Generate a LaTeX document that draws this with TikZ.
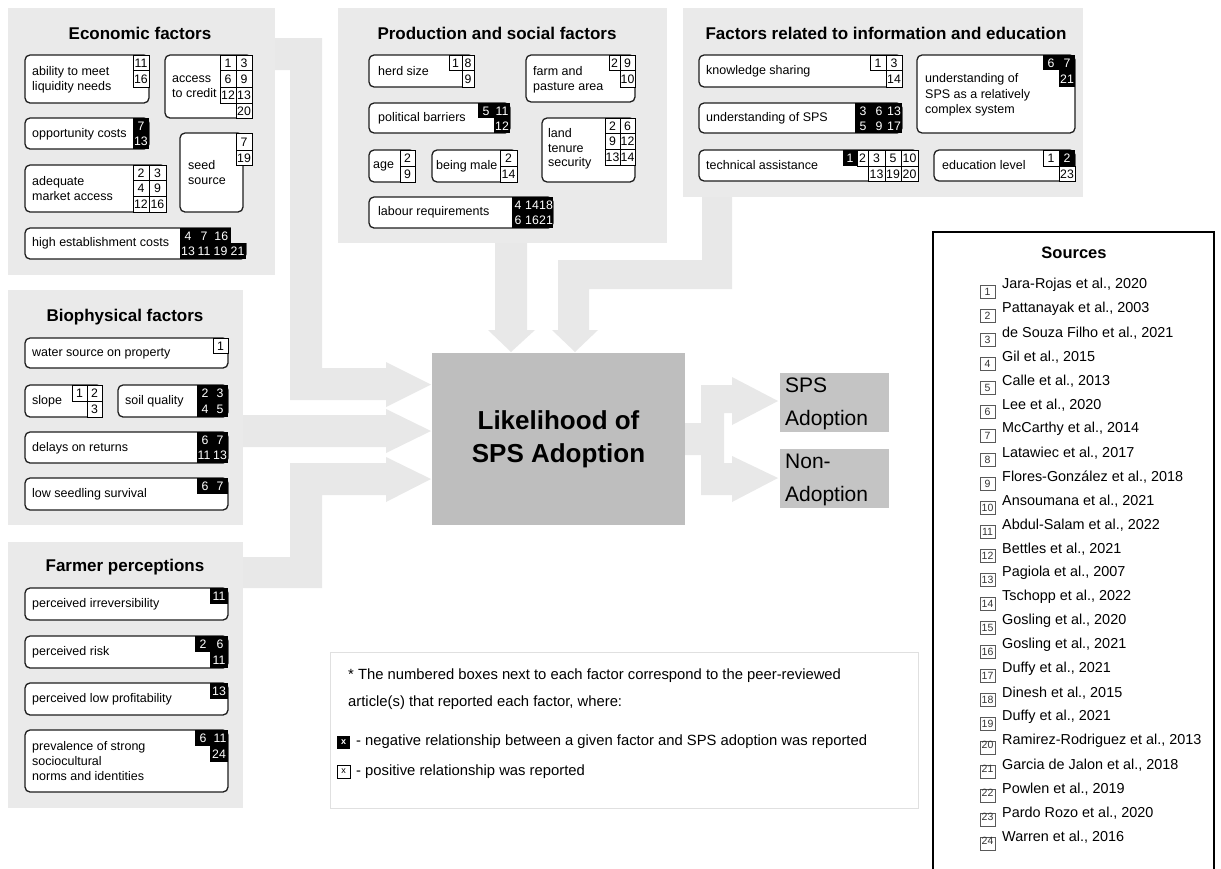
\documentclass[tikz,border=0pt]{standalone}
\usepackage{fontspec}
\setmainfont{Liberation Sans}
\definecolor{panelgray}{HTML}{EAEAEA}
\definecolor{arrowgray}{HTML}{E8E8E8}
\definecolor{centergray}{HTML}{BEBEBE}
\definecolor{outgray}{HTML}{C4C4C4}
\definecolor{boxline}{HTML}{1E1E1E}
\newcounter{nc}
\tikzset{
 fbox/.style={draw=boxline, line width=1.3pt, fill=white, rounded corners=5pt},
 wcst/.style={draw=black, line width=0.8pt, fill=white},
 num/.style={font=\fontsize{12.3}{12}\selectfont, inner sep=0},
 wnum/.style={num, text=white},
 ftxt/.style={anchor=west, align=left, inner sep=0, font=\fontsize{12.5}{15}\selectfont},
 ttl/.style={font=\fontsize{17}{20}\selectfont\bfseries, inner sep=0},
 garrow/.style={fill=arrowgray, draw=none},
 srcnum/.style={font=\fontsize{10.5}{10}\selectfont, inner sep=0, text=black!80},
 srctxt/.style={anchor=west, inner sep=0, font=\fontsize{14.4}{16}\selectfont},
 legtxt/.style={anchor=west, inner sep=0, font=\fontsize{14.8}{16}\selectfont},
}
\newcommand\wcell[5]{\stepcounter{nc}\draw[wcst] (#1,#2) rectangle (#3,#4); \node[num] (w\thenc) at ({(#1+#3)/2},{(#2+#4)/2+0.5}) {#5};}
\newcommand\bcell[5]{\stepcounter{nc}\fill[black] (#1,#2) rectangle (#3,#4); \node[wnum] (b\thenc) at ({(#1+#3)/2},{(#2+#4)/2+0.5}) {#5};}
\newcommand\brect[4]{\fill[black] (#1,#2) rectangle (#3,#4);}
\newcommand\bnum[3]{\stepcounter{nc}\node[wnum] (k\thenc) at (#1,#2) {#3};}
\newcommand\fbx[4]{\draw[fbox] (#1,#2) rectangle (#3,#4);}
\newcommand\ftx[3]{\stepcounter{nc}\node[ftxt] (t\thenc) at (#1,#2) {#3};}
\begin{document}
\begin{tikzpicture}[x=1pt,y=-1pt]
\useasboundingbox (0,0) rectangle (1221,868);
\fill[white] (0,0) rectangle (1221,868);

% ---------- big gray connectors ----------
\fill[garrow] (270,38) -- (322,38) -- (322,368) -- (386,368) -- (386,362) -- (431,384.5) -- (386,407) -- (386,400) -- (290,400) -- (290,70) -- (270,70) -- cycle;
\fill[garrow] (240,415) -- (386,415) -- (386,409) -- (431,431) -- (386,453) -- (386,447) -- (240,447) -- cycle;
\fill[garrow] (240,557) -- (290,557) -- (290,463) -- (386,463) -- (386,457) -- (431,479) -- (386,502) -- (386,495) -- (322,495) -- (322,588) -- (240,588) -- cycle;
\fill[garrow] (495,240) -- (527,240) -- (527,330) -- (535,330) -- (511,352) -- (488,330) -- (495,330) -- cycle;
\fill[garrow] (702,194) -- (732,194) -- (732,289) -- (589,289) -- (589,330) -- (598,330) -- (575,352) -- (552,330) -- (558,330) -- (558,260) -- (702,260) -- cycle;
\fill[garrow] (683,423) -- (701,423) -- (701,385) -- (732,385) -- (732,377) -- (778,401) -- (732,425) -- (732,413) -- (724,413) -- (724,463) -- (732,463) -- (732,456) -- (778,478) -- (732,502) -- (732,495) -- (701,495) -- (701,455) -- (683,455) -- cycle;

% ---------- panels ----------
\fill[panelgray] (8,8) rectangle (275,275);
\fill[panelgray] (338,8) rectangle (667,243);
\fill[panelgray] (683,8) rectangle (1083,197);
\fill[panelgray] (8,290) rectangle (243,525);
\fill[panelgray] (8,542) rectangle (243,808);

% ---------- Economic factors ----------
\node[ttl] (econ) at (140,33) {Economic factors};
\fbx{25}{55}{149}{103}
\ftx{32}{79.5}{ability to meet\\liquidity needs}
\wcell{133}{55}{149}{70}{11}\wcell{133}{70}{149}{87}{16}

\fbx{165}{55}{252}{118}
\ftx{172}{86.5}{access\\to credit}
\wcell{220}{55}{236}{70}{1}\wcell{236}{55}{252}{70}{3}
\wcell{220}{70}{236}{87}{6}\wcell{236}{70}{252}{87}{9}
\wcell{220}{87}{236}{103}{12}\wcell{236}{87}{252}{103}{13}
\wcell{236}{103}{252}{118}{20}

\fbx{25}{118}{149}{149}
\ftx{32}{134}{opportunity costs}
\bcell{133}{118}{149}{133.5}{7}\bcell{133}{133.5}{149}{149}{13}

\fbx{180}{133}{243}{212}
\ftx{188}{173}{seed\\source}
\wcell{236}{133}{252}{150}{7}\wcell{236}{150}{252}{165}{19}

\fbx{25}{165}{166}{212}
\ftx{32}{188.5}{adequate\\market access}
\wcell{133}{165}{149}{180}{2}\wcell{149}{165}{166}{180}{3}
\wcell{133}{180}{149}{196}{4}\wcell{149}{180}{166}{196}{9}
\wcell{133}{196}{149}{212}{12}\wcell{149}{196}{166}{212}{16}

\fbx{25}{228}{246}{259}
\fill[panelgray] (230.5,226) rectangle (248,242.6);
\ftx{32}{243.5}{high establishment costs}
\bcell{180}{228}{196}{243}{4}\bcell{196}{228}{212}{243}{7}\bcell{212}{228}{230.5}{243}{16}
\bcell{180}{243}{196}{259}{13}\bcell{196}{243}{212}{259}{11}\bcell{212}{243}{229}{259}{19}\bcell{229}{243}{246}{259}{21}

% ---------- Production and social factors ----------
\node[ttl] (prod) at (497,33) {Production and social factors};
\fbx{369}{55}{474}{87}
\ftx{378}{71.5}{herd size}
\wcell{449}{55}{462}{70}{1}\wcell{462}{55}{474}{70}{8}\wcell{462}{70}{474}{87}{9}

\fbx{526}{55}{635}{102}
\ftx{533}{79.5}{farm and\\pasture area}
\wcell{609}{55}{620}{70}{2}\wcell{620}{55}{635}{70}{9}\wcell{620}{70}{635}{87}{10}

\fbx{369}{103}{510}{133}
\ftx{378}{118}{political barriers}
\bcell{478}{103}{494}{118}{5}\bcell{494}{103}{510}{118}{11}\bcell{494}{118}{510}{133}{12}

\fbx{542}{118}{635}{182}
\node[ftxt, font=\fontsize{12.5}{14.6}\selectfont] (land) at (548,149) {land\\tenure\\security};
\wcell{605}{118}{620}{133}{2}\wcell{620}{118}{635}{133}{6}
\wcell{605}{133}{620}{149}{9}\wcell{620}{133}{635}{149}{12}
\wcell{605}{149}{620}{165}{13}\wcell{620}{149}{635}{165}{14}

\fbx{369}{150}{415}{182}
\ftx{373}{166.5}{age}
\wcell{400}{150}{415}{166}{2}\wcell{400}{166}{415}{182}{9}

\fbx{432}{150}{517}{182}
\ftx{436}{166.5}{being male}
\wcell{500}{150}{517}{166}{2}\wcell{500}{166}{517}{182}{14}

\fbx{369}{197}{553}{228}
\ftx{378}{212.5}{labour requirements}
\brect{512}{197}{553}{228}
\bnum{518}{205.5}{4}\bnum{532}{205.5}{14}\bnum{546}{205.5}{18}
\bnum{518}{220.5}{6}\bnum{532}{220.5}{16}\bnum{546}{220.5}{21}

% ---------- Information and education ----------
\node[ttl] (info) at (886,33) {Factors related to information and education};
\fbx{699}{55}{902}{87}
\ftx{706}{71.5}{knowledge sharing}
\wcell{870}{55}{886}{70}{1}\wcell{886}{55}{902}{70}{3}\wcell{886}{70}{902}{87}{14}

\fbx{917}{55}{1075}{133}
\node[ftxt, font=\fontsize{12.5}{15.5}\selectfont] (cplx) at (925,95) {understanding of\\SPS as a relatively\\complex system};
\bcell{1043}{55}{1059}{70}{6}\bcell{1059}{55}{1075}{70}{7}\bcell{1059}{70}{1075}{87}{21}

\fbx{699}{103}{902}{133}
\ftx{706}{118}{understanding of SPS}
\brect{855}{103}{902}{133}
\bnum{863}{111}{3}\bnum{879}{111}{6}\bnum{894}{111}{13}
\bnum{863}{126}{5}\bnum{879}{126}{9}\bnum{894}{126}{17}

\fbx{699}{150}{918}{181}
\ftx{706}{165.5}{technical assistance}
\bcell{843}{150}{857}{166}{1}\wcell{857}{150}{868}{166}{2}\wcell{868}{150}{885}{166}{3}\wcell{885}{150}{901}{166}{5}\wcell{901}{150}{918}{166}{10}
\wcell{868}{166}{885}{181}{13}\wcell{885}{166}{901}{181}{19}\wcell{901}{166}{918}{181}{20}

\fbx{934}{150}{1075}{181}
\ftx{942}{165.5}{education level}
\wcell{1043}{150}{1059}{166}{1}\bcell{1059}{150}{1075}{166}{2}\wcell{1059}{166}{1075}{181}{23}

% ---------- Biophysical factors ----------
\node[ttl] (bio) at (125,317) {Biophysical factors};
\fbx{25}{338}{228}{368}
\ftx{32}{353.5}{water source on property}
\wcell{213}{338}{228}{353}{1}

\fbx{25}{385}{102}{417}
\ftx{32}{401}{slope}
\wcell{72}{385}{87}{401}{1}\wcell{87}{385}{102}{401}{2}\wcell{87}{401}{102}{417}{3}

\fbx{118}{385}{228}{417}
\ftx{125}{401}{soil quality}
\brect{197}{385}{228}{417}
\bnum{205}{393.5}{2}\bnum{220}{393.5}{3}\bnum{205}{409}{4}\bnum{220}{409}{5}

\fbx{25}{432}{228}{463}
\ftx{32}{448}{delays on returns}
\brect{197}{432}{228}{463}
\bnum{205}{440.5}{6}\bnum{220}{440.5}{7}\bnum{204}{455.5}{11}\bnum{220}{455.5}{13}

\fbx{25}{478}{228}{510}
\ftx{32}{494.5}{low seedling survival}
\brect{197}{478}{228}{494}
\bnum{205}{486.5}{6}\bnum{220}{486.5}{7}

% ---------- Farmer perceptions ----------
\node[ttl] (farm) at (125,567) {Farmer perceptions};
\fbx{25}{588}{228}{620}
\ftx{32}{604}{perceived irreversibility}
\bcell{210}{588}{228}{604}{11}

\fbx{25}{636}{228}{668}
\ftx{32}{652}{perceived risk}
\brect{195}{636}{228}{652}
\bnum{203}{644.5}{2}\bnum{220}{644.5}{6}
\bcell{210}{652}{228}{668}{11}

\fbx{25}{683}{228}{715}
\ftx{32}{699}{perceived low profitability}
\bcell{210}{683}{228}{699}{13}

\fbx{25}{730}{228}{792}
\ftx{32}{761}{prevalence of strong\\sociocultural\\norms and identities}
\brect{195}{730}{228}{746}
\bnum{203}{738.5}{6}\bnum{220}{738.5}{11}
\bcell{210}{746}{228}{762}{24}

% ---------- centre and outcomes ----------
\node[fill=centergray, minimum width=253pt, minimum height=172pt, inner sep=0, align=center,
      font=\fontsize{26}{33}\selectfont\bfseries] (lik) at (558.5,439) {Likelihood of\\SPS Adoption};
\node[fill=outgray, minimum width=109pt, minimum height=59pt, inner sep=0] (yes) at (834.5,402.5) {};
\node[anchor=west, inner sep=0, font=\fontsize{21}{33}\selectfont, align=left] (yest) at (785,403.5) {SPS\\Adoption};
\node[fill=outgray, minimum width=109pt, minimum height=59pt, inner sep=0] (no) at (834.5,478.5) {};
\node[anchor=west, inner sep=0, font=\fontsize{21}{33}\selectfont, align=left] (not) at (785,479.5) {Non-\\Adoption};

% ---------- legend ----------
\draw[draw=black!12, line width=0.8pt, fill=white] (330,652) rectangle (918,808);
\node[legtxt] (l1) at (348,676) {* The numbered boxes next to each factor correspond to the peer-reviewed};
\node[legtxt] (l2) at (348,703) {article(s) that reported each factor, where:};
\fill[black] (337,735.5) rectangle (350,748.5);
\node[font=\fontsize{9}{9}\selectfont\bfseries, text=white, inner sep=0] (lx1) at (343.5,742) {x};
\node[legtxt] (l3) at (356,742) {- negative relationship between a given factor and SPS adoption was reported};
\draw[black, line width=0.7pt, fill=white] (337,765.5) rectangle (350,778.5);
\node[font=\fontsize{9}{9}\selectfont, inner sep=0] (lx2) at (343.5,771.5) {x};
\node[legtxt] (l4) at (356,772) {- positive relationship was reported};

% ---------- sources ----------
\draw[black, line width=1.3pt] (933,875) -- (933,232) -- (1214,232) -- (1214,875);
\node[font=\fontsize{16.5}{18}\selectfont\bfseries, inner sep=0] (srcT) at (1074,253) {Sources};
\foreach \i/\t in {1/{Jara-Rojas et al., 2020}, 2/{Pattanayak et al., 2003}, 3/{de Souza Filho et al., 2021},
 4/{Gil et al., 2015}, 5/{Calle et al., 2013}, 6/{Lee et al., 2020}, 7/{McCarthy et al., 2014},
 8/{Latawiec et al., 2017}, 9/{Flores-González et al., 2018}, 10/{Ansoumana et al., 2021},
 11/{Abdul-Salam et al., 2022}, 12/{Bettles et al., 2021}, 13/{Pagiola et al., 2007},
 14/{Tschopp et al., 2022}, 15/{Gosling et al., 2020}, 16/{Gosling et al., 2021},
 17/{Duffy et al., 2021}, 18/{Dinesh et al., 2015}, 19/{Duffy et al., 2021},
 20/{Ramirez-Rodriguez et al., 2013}, 21/{Garcia de Jalon et al., 2018},
 22/{Powlen et al., 2019}, 23/{Pardo Rozo et al., 2020}, 24/{Warren et al., 2016}}{
 \pgfmathsetmacro{\yy}{285+24*(\i-1)}
 \pgfmathsetmacro{\off}{\i>19 ? -3 : 0}
 \draw[draw=black!65, line width=0.7pt, fill=white] (980,\yy) rectangle (995,\yy+13.5);
 \node[srcnum] (sn\i) at (987.5,\yy+7+\off) {\i};
 \node[srctxt] (st\i) at (1002,\yy) {\t};
}
\end{tikzpicture}
\end{document}
